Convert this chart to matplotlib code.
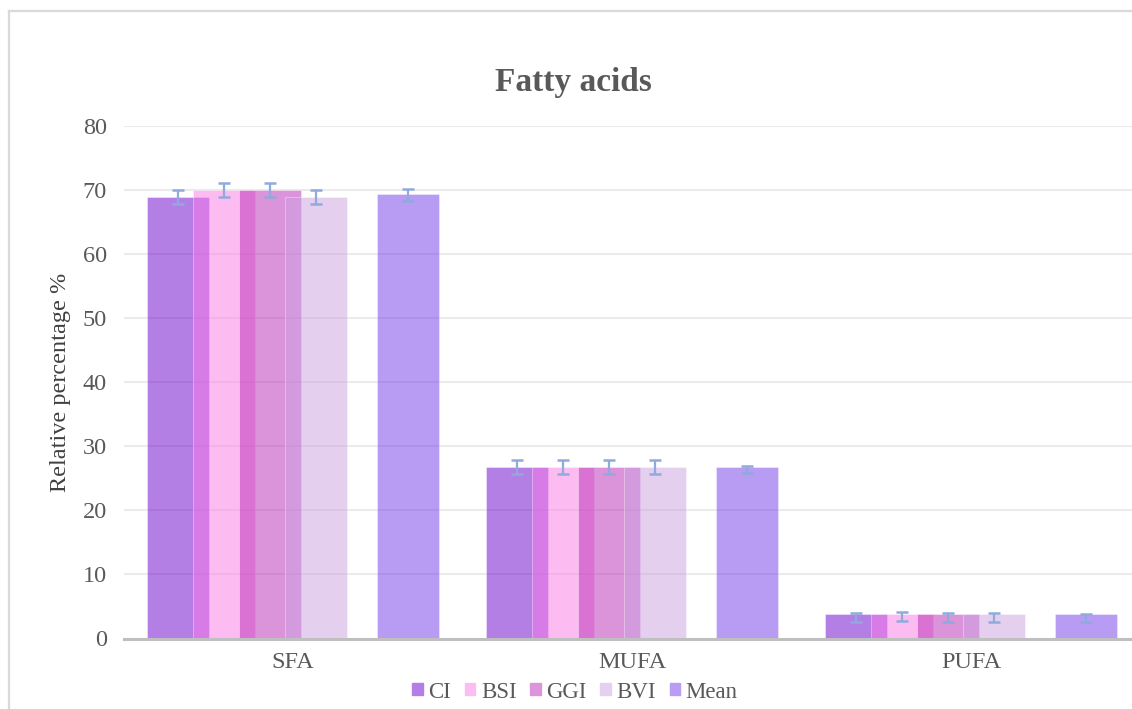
import matplotlib
matplotlib.use("Agg")
import matplotlib.pyplot as plt
import numpy as np
from matplotlib.lines import Line2D

plt.rcParams['font.family'] = ['Liberation Serif', 'DejaVu Serif']

categories = ["SFA", "MUFA", "PUFA"]
series_names = ["CI", "BSI", "GGI", "BVI", "Mean"]

ci_vals = [68.9, 26.8, 3.75]
bsi_vals = [70.0, 26.8, 3.75]
ggi_vals = [70.0, 26.8, 3.75]
bvi_vals = [68.9, 26.8, 3.75]
mean_vals = [69.4, 26.8, 3.75]

ci_err_lo = [1.1, 1.1, 1.1]
ci_err_hi = [1.1, 1.1, 0.25]
bsi_err_lo = [1.1, 1.1, 1.05]
bsi_err_hi = [1.1, 1.1, 0.45]
ggi_err_lo = [1.05, 1.1, 1.1]
ggi_err_hi = [1.05, 1.1, 0.25]
bvi_err_lo = [1.1, 1.1, 1.1]
bvi_err_hi = [1.1, 1.1, 0.25]
mean_err_lo = [1.1, 1.0, 1.15]
mean_err_hi = [0.7, 0.15, 0.1]

yticks = [0, 10, 20, 30, 40, 50, 60, 70, 80]

series = [
    (ci_vals, ci_err_lo, ci_err_hi),
    (bsi_vals, bsi_err_lo, bsi_err_hi),
    (ggi_vals, ggi_err_lo, ggi_err_hi),
    (bvi_vals, bvi_err_lo, bvi_err_hi),
    (mean_vals, mean_err_lo, mean_err_hi),
]
colors = ["#6b00cd", "#fb7be7", "#b929b5", "#cda1e1", "#7339e9"]
legend_colors = ["#b57ee6", "#fdbdf3", "#dc94da", "#e6d0f0", "#b99cf4"]
# slot index within each group (slot 4 left empty before Mean)
slots = [0, 1, 2, 3, 5]
step = 0.1357
bar_w = 0.18
alpha = 0.5

W, H = 1132, 709
fig = plt.figure(figsize=(W / 100, H / 100), dpi=100)
fig.patch.set_facecolor("white")

ax = fig.add_axes([123.5 / W, (H - 638.5) / H, 1017 / W, (638.5 - 126) / H])
ax.set_facecolor("none")

x = np.arange(len(categories))
for (vals, lo, hi), col, slot in zip(series, colors, slots):
    off = (slot - 2.5) * step
    ax.bar(x + off, vals, width=bar_w, color=col, alpha=alpha,
           edgecolor="white", linewidth=0.5, zorder=2)
for (vals, lo, hi), slot in zip(series, slots):
    off = (slot - 2.5) * step
    ax.errorbar(x + off, vals, yerr=[lo, hi], fmt="none", ecolor="#8faadc",
                elinewidth=1.6, capsize=4.5, capthick=1.8, zorder=4)

ax.set_xlim(-0.5, 2.5)
ax.set_ylim(0, 80)
ax.set_yticks(yticks)
ax.set_xticks(x)
ax.set_xticklabels(categories)
ax.yaxis.grid(True, color="#ebebeb", linewidth=1.5, zorder=0)
ax.set_axisbelow(True)
for s in ["top", "right", "left"]:
    ax.spines[s].set_visible(False)
ax.spines["bottom"].set_color("#bfbfbf")
ax.spines["bottom"].set_linewidth(2.2)
ax.spines["bottom"].set_zorder(3)
ax.tick_params(axis="both", length=0, labelsize=17.5, colors="#595959")
ax.tick_params(axis="y", pad=12)
ax.tick_params(axis="x", pad=10)

ax.set_ylabel("Relative percentage %", fontsize=17.5, color="#404040", labelpad=8)

fig.text(573 / W, (H - 82) / H, "Fatty acids", ha="center", va="center",
         fontsize=24, fontweight="bold", color="#595959")

# chart border
fig.add_artist(Line2D([9 / W, 9 / W], [0, (H - 11) / H], color="#d9d9d9",
                      linewidth=1.6, transform=fig.transFigure))
fig.add_artist(Line2D([9 / W, 1], [(H - 11) / H, (H - 11) / H], color="#d9d9d9",
                      linewidth=1.6, transform=fig.transFigure))

handles = [plt.Rectangle((0, 0), 1, 1, color=c) for c in legend_colors]
fig.legend(handles, series_names, loc="center", bbox_to_anchor=(575 / W, (H - 692) / H),
           ncol=5, frameon=False, fontsize=16.5, handlelength=0.45, handleheight=0.45,
           handletextpad=0.25, columnspacing=0.6, labelcolor="#595959")

fig.savefig("out.png", dpi=100, facecolor="white")
